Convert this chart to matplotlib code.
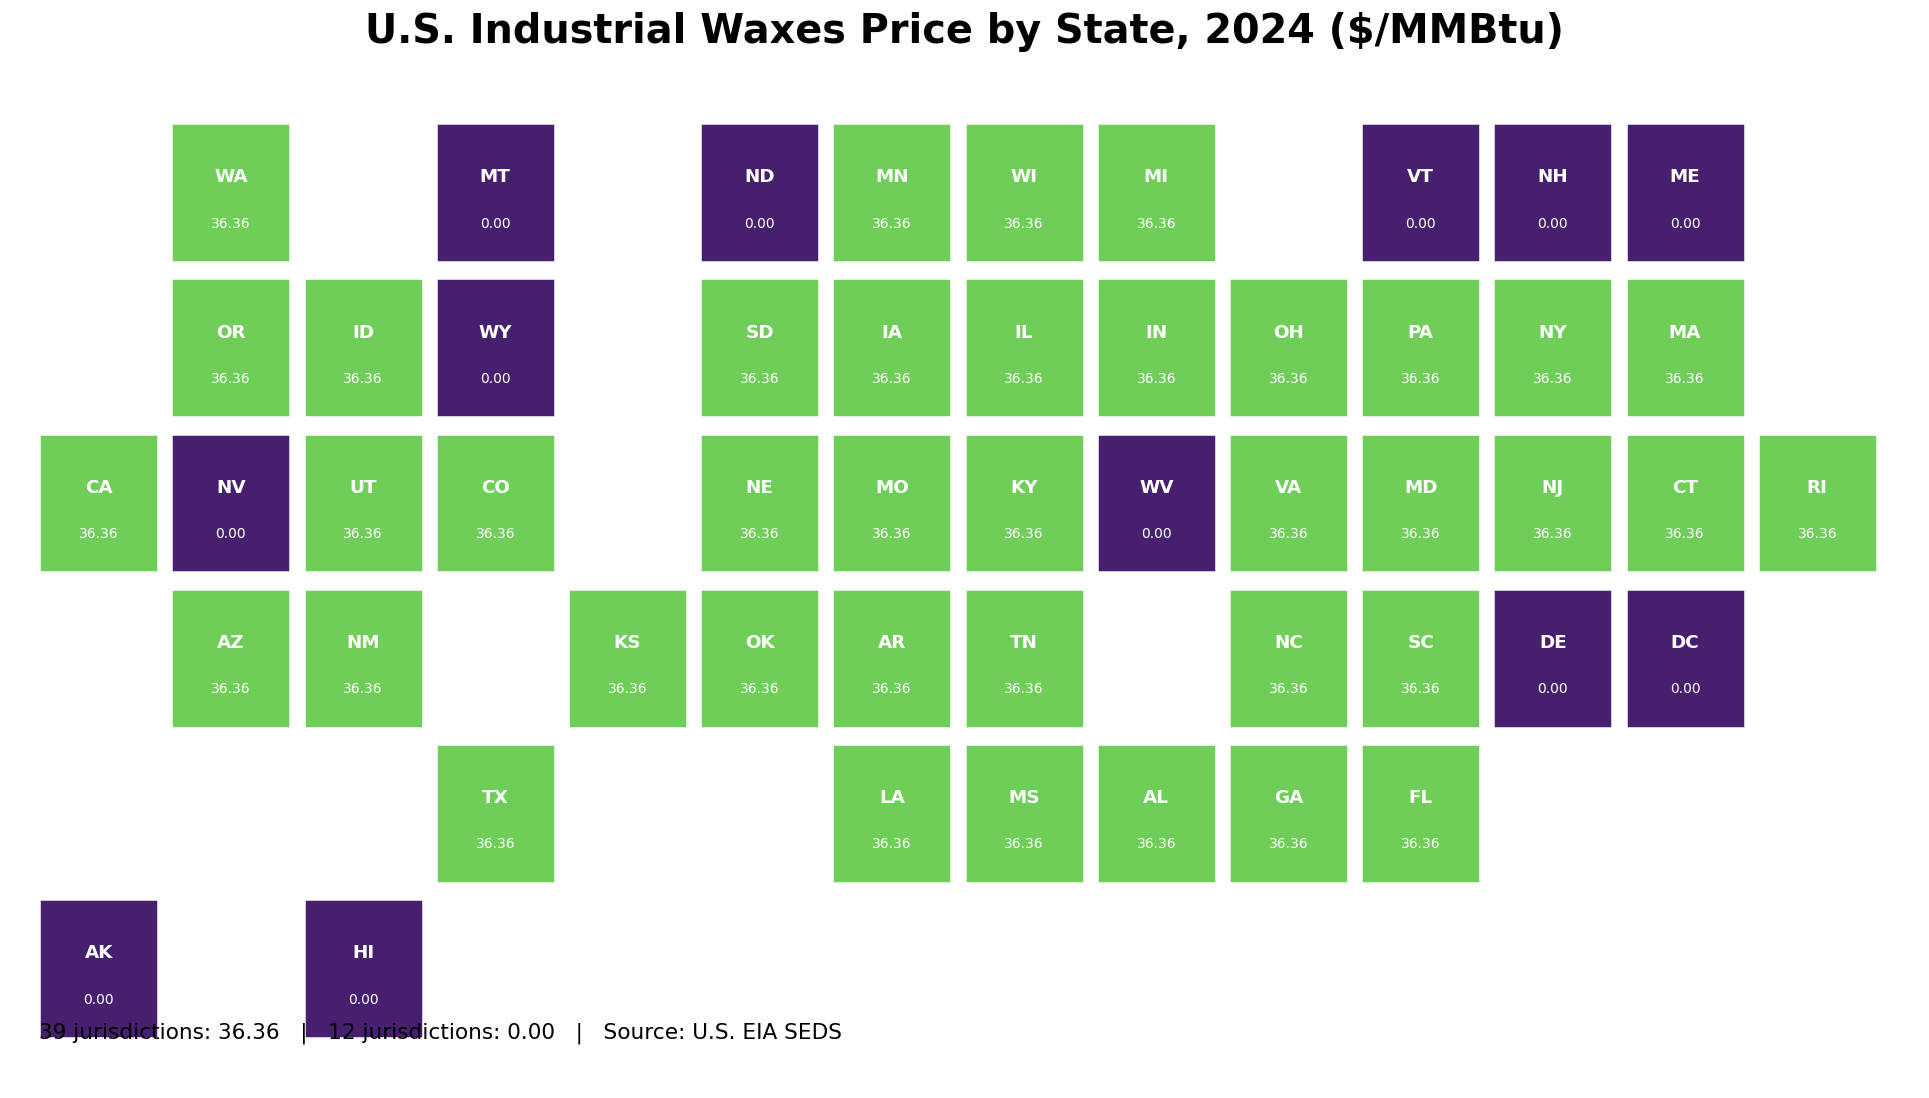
import matplotlib
matplotlib.use("Agg")
import matplotlib.pyplot as plt
from matplotlib.patches import Rectangle

states = ["WA", "MT", "ND", "MN", "WI", "MI", "VT", "NH", "ME",
          "OR", "ID", "WY", "SD", "IA", "IL", "IN", "OH", "PA", "NY", "MA",
          "CA", "NV", "UT", "CO", "NE", "MO", "KY", "WV", "VA", "MD", "NJ", "CT", "RI",
          "AZ", "NM", "KS", "OK", "AR", "TN", "NC", "SC", "DE", "DC",
          "TX", "LA", "MS", "AL", "GA", "FL",
          "AK", "HI"]
cols = [1, 3, 5, 6, 7, 8, 10, 11, 12,
        1, 2, 3, 5, 6, 7, 8, 9, 10, 11, 12,
        0, 1, 2, 3, 5, 6, 7, 8, 9, 10, 11, 12, 13,
        1, 2, 4, 5, 6, 7, 9, 10, 11, 12,
        3, 6, 7, 8, 9, 10,
        0, 2]
rows = [0] * 9 + [1] * 11 + [2] * 13 + [3] * 10 + [4] * 6 + [5] * 2
zero_states = ["MT", "ND", "VT", "NH", "ME", "WY", "NV", "WV", "DE", "DC", "AK", "HI"]
prices = [0.0 if s in zero_states else 36.36 for s in states]

W, H = 1929, 1098
fig = plt.figure(figsize=(W / 150, H / 150), dpi=150)
# axes box in pixels, one unit per grid cell
ax = fig.add_axes([32.6 / W, 1 - 1046.2 / H, (1883.4 - 32.6) / W, (1046.2 - 115.0) / H])
ax.set_xlim(-0.5, 13.5)
ax.set_ylim(5.5, -0.5)
ax.axis("off")

for s, c, r, v in zip(states, cols, rows, prices):
    color = "#6ece58" if v > 0 else "#471f6f"
    ax.add_patch(Rectangle((c - 0.443, r - 0.441), 0.886, 0.882, facecolor=color,
                           edgecolor="white", linewidth=0.25))
    ax.text(c, r - 0.098, s, color="white", fontsize=8.8, fontweight="bold", ha="center", va="center")
    ax.text(c, r + 0.2, f"{v:.2f}", color="white", fontsize=6.7, ha="center", va="center")

fig.text(964.5 / W, 1 - 32 / H, "U.S. Industrial Waxes Price by State, 2024 ($/MMBtu)",
         fontsize=19.1, fontweight="bold", ha="center", va="center")
fig.text(39 / W, 1 - 1033 / H, "39 jurisdictions: 36.36   |   12 jurisdictions: 0.00   |   Source: U.S. EIA SEDS",
         fontsize=10.4, ha="left", va="center")

fig.savefig("out.png", dpi=150)
